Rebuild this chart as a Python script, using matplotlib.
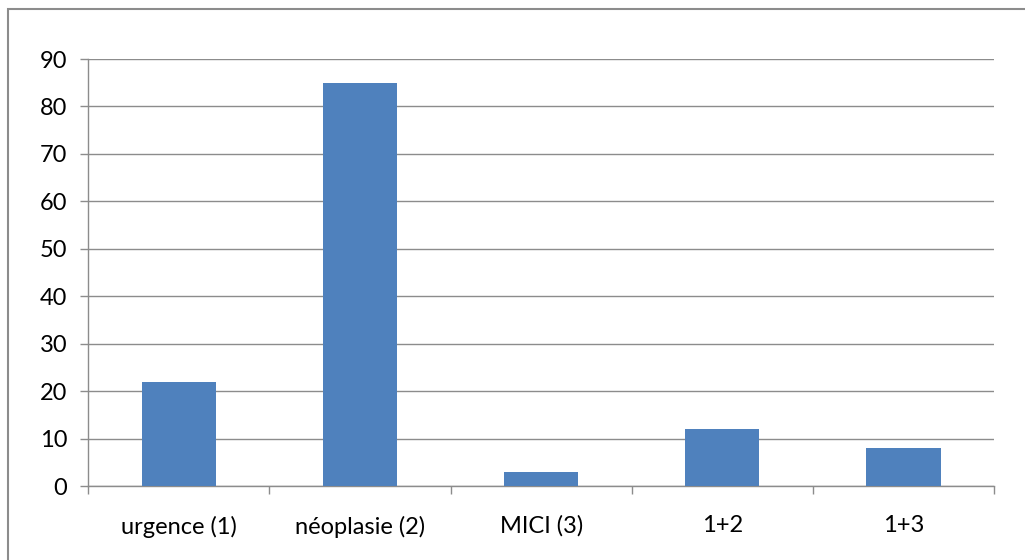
import numpy as np
import matplotlib.pyplot as plt
from matplotlib.patches import Rectangle

categories = ['urgence (1)', 'néoplasie (2)', 'MICI (3)', '1+2', '1+3']
values = [22, 85, 3, 12, 8]
yticks = [0, 10, 20, 30, 40, 50, 60, 70, 80, 90]

plt.rcParams['font.family'] = ['Lato', 'DejaVu Sans']

fig = plt.figure(figsize=(10.25, 5.6), dpi=100, facecolor='w')
ax = fig.add_axes([88.3 / 1025, 1 - 486.3 / 560, (994 - 88.3) / 1025, (486.3 - 59) / 560])

x = np.arange(len(categories))
ax.bar(x, values, width=0.41, color='#4F81BD', zorder=3)

ax.set_xlim(-0.5, len(categories) - 0.5)
ax.set_ylim(0, 90)
ax.set_yticks(yticks)
ax.yaxis.grid(True, color='#8c8c8c', linewidth=1.0, zorder=0)

ax.set_xticks(x)
ax.set_xticklabels(categories, fontsize=17)
ax.set_xticks(np.arange(-0.5, len(categories)), minor=True)
ax.tick_params(axis='x', which='major', length=0, pad=21)
ax.tick_params(axis='x', which='minor', length=6, width=1, color='#8c8c8c')
ax.tick_params(axis='y', length=6, width=1, color='#8c8c8c', labelsize=17, pad=9)

for s in ['top', 'right']:
    ax.spines[s].set_visible(False)
for s in ['left', 'bottom']:
    ax.spines[s].set_color('#8c8c8c')
    ax.spines[s].set_linewidth(1.0)

# chart frame, runs off the right and bottom edges
fig.patches.append(Rectangle((8 / 1025, -0.1), 1.2, 1.1 - 8.5 / 560,
                             transform=fig.transFigure, fill=False,
                             edgecolor='#8c8c8c', linewidth=1.5))

plt.savefig('out.png', dpi=100)
